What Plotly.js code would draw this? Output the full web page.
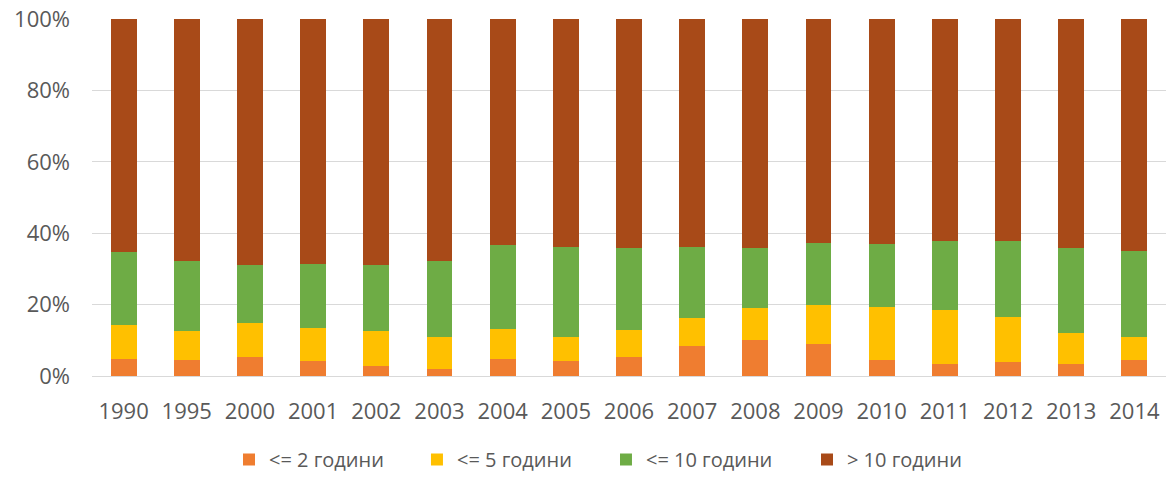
<!DOCTYPE html>
<html>
<head>
<meta charset="utf-8">
<script src="https://cdn.plot.ly/plotly-3.0.1.min.js"></script>
<style>
html,body{margin:0;padding:0;background:#fff;}
#chart{width:1166px;height:479px;}
</style>
</head>
<body>
<div id="chart"></div>
<script>
const years = ["1990","1995","2000","2001","2002","2003","2004","2005","2006","2007","2008","2009","2010","2011","2012","2013","2014"];
const seriesNames = ["<= 2 години", "<= 5 години", "<= 10 години", "> 10 години"];
const upTo2 =  [4.9, 4.5, 5.2, 4.1, 2.9, 2.1, 4.8, 4.2, 5.4, 8.5, 10.1, 9.0, 4.5, 3.3, 4.0, 3.5, 4.5];
const upTo5 =  [9.3, 8.1, 9.7, 9.3, 9.7, 8.8, 8.5, 6.7, 7.6, 7.7, 8.9, 10.8, 14.9, 15.3, 12.5, 8.6, 6.4];
const upTo10 = [20.4, 19.6, 16.1, 18.1, 18.4, 21.3, 23.4, 25.3, 22.9, 20.0, 16.8, 17.4, 17.7, 19.2, 21.3, 23.8, 24.1];
const over10 = [65.4, 67.8, 69.0, 68.5, 69.0, 67.8, 63.3, 63.8, 64.1, 63.8, 64.2, 62.8, 62.9, 62.2, 62.2, 64.1, 65.0];
const colors = ["#EF7D30", "#FFC000", "#6EAC45", "#A84A18"];

const values = [upTo2, upTo5, upTo10, over10];
const legendIds = ["legend", "legend2", "legend3", "legend4"];
const traces = values.map((v, i) => ({
  type: "bar",
  x: years,
  y: v,
  name: seriesNames[i],
  legend: legendIds[i],
  marker: {color: colors[i], line: {width: 0}},
  hoverinfo: "x+y+name"
}));

const font = "Open Sans, Noto Sans, DejaVu Sans, sans-serif";
const legendX = [0.1964, 0.3576, 0.5197, 0.6921];
function makeLegend(x) {
  return {
    orientation: "h",
    xref: "container",
    yref: "container",
    x: x,
    xanchor: "left",
    y: 0.0,
    yanchor: "bottom",
    font: {size: 20, color: "#595959", family: font},
    itemwidth: 30,
    bgcolor: "rgba(0,0,0,0)"
  };
}
const layout = {
  width: 1166,
  height: 479,
  margin: {l: 92, r: 0, t: 19, b: 103},
  barmode: "stack",
  barnorm: "percent",
  bargap: 0.59,
  paper_bgcolor: "#fff",
  plot_bgcolor: "#fff",
  font: {family: font, color: "#595959"},
  xaxis: {
    type: "category",
    tickfont: {size: 22, color: "#595959", family: font},
    showgrid: false,
    showline: true,
    linecolor: "#d9d9d9",
    linewidth: 1,
    ticks: "",
    ticklabelstandoff: 16
  },
  yaxis: {
    range: [0, 100],
    dtick: 20,
    ticksuffix: "%",
    tickfont: {size: 22, color: "#595959", family: font},
    showgrid: true,
    gridcolor: "#d9d9d9",
    gridwidth: 1,
    zeroline: false,
    showline: false,
    ticks: "",
    ticklabelstandoff: 21
  },
  showlegend: true,
  legend: makeLegend(legendX[0]),
  legend2: makeLegend(legendX[1]),
  legend3: makeLegend(legendX[2]),
  legend4: makeLegend(legendX[3])
};

Plotly.newPlot("chart", traces, layout, {displayModeBar: false, staticPlot: true});
</script>
</body>
</html>
